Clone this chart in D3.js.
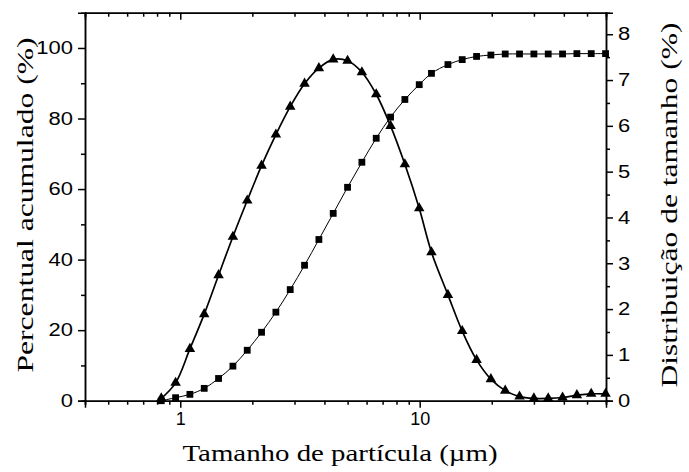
<!DOCTYPE html>
<html lang="pt">
<head>
    <meta charset="UTF-8">
    <title>Distribuição granulométrica</title>
    <script src="https://cdn.jsdelivr.net/npm/d3@7"></script>
    <style>
        body { margin: 0; background: #fff; }
        .tick text { font-family: "Liberation Sans", Arial, sans-serif; font-size: 18px; fill: #000; }
        .axis path, .axis line { stroke: #000; stroke-width: 1.5; }
        .title { font-family: "Liberation Serif", "Times New Roman", Times, serif; font-size: 24px; fill: #000; }
    </style>
</head>
<body>
    <svg id="chart" width="689" height="472"></svg>

    <script>
        // particle size classes (µm)
        const sizes = [0.833, 0.956, 1.097, 1.259, 1.445, 1.659, 1.904, 2.185, 2.508, 2.879,
                       3.304, 3.793, 4.353, 4.997, 5.735, 6.583, 7.556, 8.672, 9.954, 11.2,
                       13.12, 15.05, 17.28, 19.83, 22.76, 26.12, 29.99, 34.42, 39.51, 45.35,
                       52.05, 59.74];
        // cumulative percent (left axis)
        const cumulative = [0, 0.85, 1.8, 3.5, 6.3, 9.8, 14.3, 19.4, 25.1, 31.5,
                            38.4, 45.7, 53.1, 60.5, 67.6, 74.4, 80.4, 85.4, 89.6, 92.8,
                            95.3, 96.7, 97.6, 98.0, 98.3, 98.3, 98.3, 98.3, 98.3, 98.4,
                            98.4, 98.4];
        // size distribution percent (right axis)
        const distribution = [0.05, 0.39, 1.13, 1.89, 2.74, 3.58, 4.37, 5.13, 5.81, 6.42,
                              6.92, 7.26, 7.45, 7.42, 7.17, 6.69, 6.0, 5.16, 4.2, 3.24,
                              2.31, 1.52, 0.89, 0.47, 0.22, 0.09, 0.05, 0.05, 0.07, 0.12,
                              0.15, 0.15];

        const xMajor = [1, 10];
        const xMinor = [0.4, 0.5, 0.6, 0.7, 0.8, 0.9, 2, 3, 4, 5, 6, 7, 8, 9, 20, 30, 40, 50, 60];
        const leftMajor = [0, 20, 40, 60, 80, 100];
        const leftMinor = [10, 30, 50, 70, 90];
        const rightMajor = [0, 1, 2, 3, 4, 5, 6, 7, 8];
        const rightMinor = [0.5, 1.5, 2.5, 3.5, 4.5, 5.5, 6.5, 7.5];

        const svg = d3.select("#chart");
        const plotL = 85, plotR = 606, plotT = 12.7, plotB = 400.7;

        const x = d3.scaleLog().domain([0.4, 60]).range([plotL, plotR]);
        const yL = d3.scaleLinear().domain([0, 110]).range([plotB, plotT]);
        const yR = d3.scaleLinear().domain([0, 8.47]).range([plotB, plotT]);

        // axes: major ticks with labels, minor ticks without
        function addAxis(axis, tx, ty) {
            return svg.append("g")
                .attr("class", "axis")
                .attr("transform", `translate(${tx},${ty})`)
                .call(axis);
        }

        // the vertical-axis numbers are drawn a little wider than normal
        function widen(g, k) {
            g.selectAll(".tick text").each(function () {
                const w = this.getComputedTextLength();
                d3.select(this)
                    .attr("textLength", w * k)
                    .attr("lengthAdjust", "spacingAndGlyphs");
            });
        }

        addAxis(d3.axisBottom(x).tickValues(xMajor).tickFormat(d3.format("d")).tickSize(7).tickPadding(5), 0, plotB);
        addAxis(d3.axisBottom(x).tickValues(xMinor).tickFormat("").tickSize(4), 0, plotB);
        addAxis(d3.axisTop(x).tickValues(xMajor).tickFormat("").tickSize(-7), 0, plotT);
        addAxis(d3.axisTop(x).tickValues(xMinor).tickFormat("").tickSize(-4), 0, plotT);

        const gLeft = addAxis(d3.axisLeft(yL).tickValues(leftMajor).tickSize(7).tickPadding(5), plotL, 0);
        addAxis(d3.axisLeft(yL).tickValues(leftMinor).tickFormat("").tickSize(4), plotL, 0);
        widen(gLeft, 1.22);

        const gRight = addAxis(d3.axisRight(yR).tickValues(rightMajor).tickSize(7).tickPadding(5), plotR, 0);
        addAxis(d3.axisRight(yR).tickValues(rightMinor).tickFormat("").tickSize(4), plotR, 0);
        widen(gRight, 1.22);

        // cumulative curve with squares
        const cumLine = d3.line()
            .x((d, i) => x(sizes[i]))
            .y(d => yL(d))
            .curve(d3.curveCatmullRom);

        svg.append("path")
            .datum(cumulative)
            .attr("d", cumLine)
            .attr("fill", "none")
            .attr("stroke", "#000")
            .attr("stroke-width", 1);

        svg.append("g")
            .selectAll("rect")
            .data(cumulative)
            .join("rect")
            .attr("x", (d, i) => x(sizes[i]) - 3.4)
            .attr("y", d => yL(d) - 3.4)
            .attr("width", 6.8)
            .attr("height", 6.8)
            .attr("fill", "#000");

        // distribution curve with triangles
        const distLine = d3.line()
            .x((d, i) => x(sizes[i]))
            .y(d => yR(d))
            .curve(d3.curveCatmullRom);

        svg.append("path")
            .datum(distribution)
            .attr("d", distLine)
            .attr("fill", "none")
            .attr("stroke", "#000")
            .attr("stroke-width", 1.7);

        const tri = d3.symbol().type(d3.symbolTriangle).size(48);
        svg.append("g")
            .selectAll("path")
            .data(distribution)
            .join("path")
            .attr("d", tri)
            .attr("transform", (d, i) => `translate(${x(sizes[i])},${yR(d)})`)
            .attr("fill", "#000");

        // axis titles
        svg.append("text")
            .attr("class", "title")
            .attr("x", 340)
            .attr("y", 461)
            .attr("text-anchor", "middle")
            .attr("textLength", 315)
            .attr("lengthAdjust", "spacingAndGlyphs")
            .text("Tamanho de partícula (µm)");

        svg.append("text")
            .attr("class", "title")
            .attr("transform", "translate(33,205) rotate(-90)")
            .attr("text-anchor", "middle")
            .attr("textLength", 335)
            .attr("lengthAdjust", "spacingAndGlyphs")
            .text("Percentual acumulado (%)");

        svg.append("text")
            .attr("class", "title")
            .attr("transform", "translate(677,205) rotate(-90)")
            .attr("text-anchor", "middle")
            .attr("textLength", 365)
            .attr("lengthAdjust", "spacingAndGlyphs")
            .text("Distribuição de tamanho (%)");
    </script>
</body>
</html>
